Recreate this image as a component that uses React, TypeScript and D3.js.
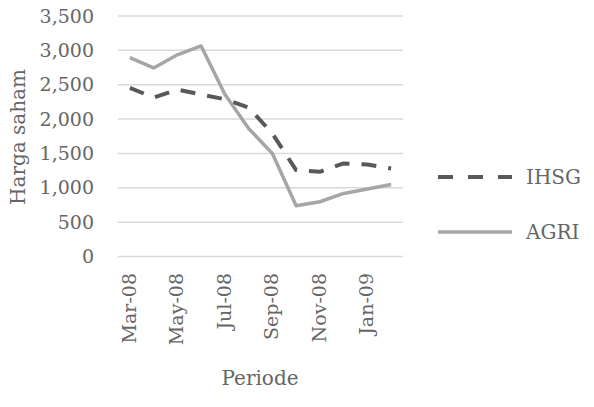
import { useEffect, useRef } from "react"
import * as d3 from "d3"

// Monthly closing prices, Mar-08 .. Feb-09
const months = ["Mar-08", "Apr-08", "May-08", "Jun-08", "Jul-08", "Aug-08", "Sep-08", "Oct-08", "Nov-08", "Dec-08", "Jan-09", "Feb-09"]
const ihsg = [2454, 2314, 2430, 2357, 2289, 2168, 1790, 1257, 1233, 1355, 1340, 1282]
const agri = [2895, 2744, 2935, 3064, 2360, 1863, 1500, 739, 797, 918, 981, 1049]
const yTicks = [0, 500, 1000, 1500, 2000, 2500, 3000, 3500]
const labelMonths = ["Mar-08", "May-08", "Jul-08", "Sep-08", "Nov-08", "Jan-09"]

const series = [
  { name: "IHSG", values: ihsg, color: "#595959", width: 4, dash: "15,12" },
  { name: "AGRI", values: agri, color: "#a6a6a6", width: 3.5, dash: null },
]

export default function App() {
  const svgRef = useRef<SVGSVGElement>(null)

  useEffect(() => {
    if (!svgRef.current) return
    const svg = d3.select(svgRef.current)
    svg.selectAll("*").remove()

    const font = "'DejaVu Serif', serif"
    const textColor = "#666666"
    const left = 118
    const right = 403
    const top = 16
    const bottom = 256.5

    const x = d3.scalePoint<string>().domain(months).range([left, right]).padding(0.5)
    const y = d3.scaleLinear().domain([0, 3500]).range([bottom, top])

    // gridlines
    svg.append("g")
      .selectAll("line")
      .data(yTicks)
      .join("line")
      .attr("x1", left)
      .attr("x2", right)
      .attr("y1", (d) => y(d))
      .attr("y2", (d) => y(d))
      .attr("stroke", "#d9d9d9")
      .attr("stroke-width", 1.5)

    // y axis labels
    svg.append("g")
      .attr("transform", `translate(${left - 24},0)`)
      .call(d3.axisLeft(y).tickValues(yTicks).tickFormat(d3.format(",")).tickSize(0).tickPadding(0))
      .call((g) => g.select(".domain").remove())
      .call((g) =>
        g.selectAll("text").attr("font-family", font).attr("font-size", 19).attr("fill", textColor),
      )

    // x axis labels (rotated)
    svg.append("g")
      .selectAll("text")
      .data(labelMonths)
      .join("text")
      .attr("transform", (d) => `translate(${(x(d) as number) - 1},273) rotate(-90)`)
      .attr("text-anchor", "end")
      .attr("dy", "0.35em")
      .attr("font-family", font)
      .attr("font-size", 19)
      .attr("fill", textColor)
      .text((d) => d)

    // lines
    const line = d3
      .line<number>()
      .x((_, i) => x(months[i]) as number)
      .y((d) => y(d))

    series.forEach((s) => {
      svg.append("path")
        .datum(s.values)
        .attr("d", line)
        .attr("fill", "none")
        .attr("stroke", s.color)
        .attr("stroke-width", s.width)
        .attr("stroke-linejoin", "round")
        .attr("stroke-dasharray", s.dash ?? null)
    })

    // axis titles
    svg.append("text")
      .attr("transform", "translate(18,137) rotate(-90)")
      .attr("text-anchor", "middle")
      .attr("dy", "0.35em")
      .attr("font-family", font)
      .attr("font-size", 20)
      .attr("fill", textColor)
      .text("Harga saham")

    svg.append("text")
      .attr("x", 260)
      .attr("y", 385)
      .attr("text-anchor", "middle")
      .attr("font-family", font)
      .attr("font-size", 20)
      .attr("fill", textColor)
      .text("Periode")

    // legend
    const legend = svg.append("g")
      .selectAll("g")
      .data(series)
      .join("g")
      .attr("transform", (_, i) => `translate(438,${177 + i * 55})`)

    legend.append("line")
      .attr("x1", 0)
      .attr("x2", 74)
      .attr("stroke", (d) => d.color)
      .attr("stroke-width", (d) => d.width)
      .attr("stroke-dasharray", (d) => (d.dash ? "15,15" : null))

    legend.append("text")
      .attr("x", 88)
      .attr("dy", "0.35em")
      .attr("font-family", font)
      .attr("font-size", 20)
      .attr("fill", textColor)
      .text((d) => d.name)
  }, [])

  return (
    <svg
      ref={svgRef}
      width={594}
      height={407}
      style={{ position: "absolute", left: 0, top: 0, background: "#fff" }}
    />
  )
}
